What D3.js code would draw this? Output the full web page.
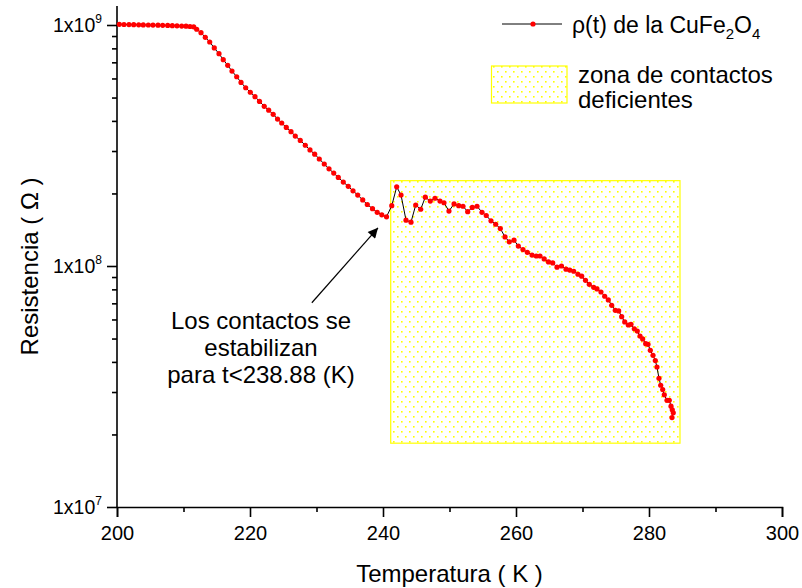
<!DOCTYPE html>
<html>
<head>
<meta charset="utf-8">
<script src="https://cdn.jsdelivr.net/npm/d3@7"></script>
<style>
  body { margin: 0; background: #fff; }
  text { font-family: "Liberation Sans", Arial, sans-serif; fill: #000; }
</style>
</head>
<body>
<div id="chart"></div>
<script>
// temperature (K)
const temps = [200.35, 201.05, 201.80, 202.51, 203.26, 203.95, 204.71, 205.41, 206.17, 206.87,
  207.62, 208.32, 209.02, 209.73, 210.38, 210.98, 211.53, 211.98, 212.63, 213.28,
  213.94, 214.63, 215.34, 215.98, 216.65, 217.29, 218.00, 218.65, 219.35, 220.05,
  220.75, 221.43, 222.14, 222.81, 223.49, 224.14, 224.77, 225.46, 226.17, 226.81,
  227.56, 228.32, 229.02, 229.73, 230.42, 231.17, 231.88, 232.59, 233.28, 234.03,
  234.78, 235.49, 236.20, 236.95, 237.64, 238.42, 239.13, 239.82, 240.53, 241.32,
  242.06, 242.71, 243.46, 244.21, 244.92, 245.67, 246.36, 247.11, 247.82, 248.57,
  249.17, 249.92, 250.68, 251.38, 252.03, 252.74, 253.43, 254.14, 254.89, 255.53,
  256.24, 256.95, 257.64, 258.35, 258.99, 259.70, 260.35, 261.05, 261.70, 262.41,
  263.05, 263.61, 264.24, 264.89, 265.52, 266.17, 266.84, 267.52, 268.08, 268.68,
  269.32, 269.88, 270.45, 271.02, 271.68, 272.18, 272.78, 273.34, 273.88, 274.39,
  274.93, 275.44, 275.89, 276.35, 276.89, 277.29, 277.79, 278.24, 278.65, 279.05,
  279.50, 279.85, 280.20, 280.60, 280.95, 281.20, 281.50, 281.76, 282.06, 282.30,
  282.71, 283.05, 283.31, 283.50, 283.65, 283.46];

// resistance (ohm)
const resist = [1.006e9, 1.005e9, 1.004e9, 1.003e9, 1.002e9, 1.001e9, 1.000e9, 0.999e9, 0.998e9, 0.997e9,
  0.996e9, 0.994e9, 0.992e9, 0.990e9, 0.989e9, 0.986e9, 0.983e9, 9.60e8, 9.29e8, 8.89e8,
  8.50e8, 8.03e8, 7.60e8, 7.18e8, 6.80e8, 6.44e8, 6.10e8, 5.78e8, 5.49e8, 5.26e8,
  5.04e8, 4.82e8, 4.60e8, 4.43e8, 4.26e8, 4.07e8, 3.92e8, 3.76e8, 3.61e8, 3.46e8,
  3.32e8, 3.17e8, 3.03e8, 2.91e8, 2.78e8, 2.65e8, 2.53e8, 2.43e8, 2.33e8, 2.23e8,
  2.14e8, 2.05e8, 1.97e8, 1.88e8, 1.80e8, 1.73e8, 1.67e8, 1.63e8, 1.60e8, 1.78e8,
  2.13e8, 1.97e8, 1.55e8, 1.52e8, 1.79e8, 1.72e8, 1.93e8, 1.86e8, 1.91e8, 1.86e8,
  1.83e8, 1.69e8, 1.81e8, 1.78e8, 1.77e8, 1.68e8, 1.75e8, 1.77e8, 1.67e8, 1.62e8,
  1.54e8, 1.49e8, 1.43e8, 1.32e8, 1.26e8, 1.28e8, 1.21e8, 1.17e8, 1.14e8, 1.11e8,
  1.10e8, 1.10e8, 1.07e8, 1.04e8, 1.03e8, 9.89e7, 1.00e8, 9.70e7, 9.62e7, 9.51e7,
  9.24e7, 9.07e7, 8.72e7, 8.39e7, 8.16e7, 8.03e7, 7.80e7, 7.49e7, 7.23e7, 6.87e7,
  6.55e7, 6.51e7, 6.16e7, 5.86e7, 5.69e7, 5.73e7, 5.49e7, 5.37e7, 5.12e7, 4.98e7,
  4.76e7, 4.73e7, 4.47e7, 4.26e7, 4.05e7, 3.81e7, 3.42e7, 3.20e7, 3.07e7, 2.92e7,
  2.77e7, 2.77e7, 2.62e7, 2.53e7, 2.46e7, 2.35e7];

const xTicks = [200, 220, 240, 260, 280, 300];
const xMinorTicks = [210, 230, 250, 270, 290];
const yTicks = [1e7, 1e8, 1e9];
const yExponents = ["7", "8", "9"];

// zone of bad contacts (T range and R range)
const zoneT = [241.16, 284.66];
const zoneR = [1.84e7, 2.26e8];

const annotationLines = ["Los contactos se", "estabilizan", "para t<238.88 (K)"];
const arrowFrom = [229.3, 7.04e7];
const arrowTo = [239.25, 1.44e8];

const width = 802, height = 588;

const svg = d3.select("#chart").append("svg")
  .attr("width", width)
  .attr("height", height);

const x = d3.scaleLinear().domain([200, 300]).range([117, 782]);
const y = d3.scaleLog().domain([1e7, 1e9]).range([507, 25]);
const yTop = 1.2e9;

const defs = svg.append("defs");
const pat = defs.append("pattern")
  .attr("id", "dots")
  .attr("patternUnits", "userSpaceOnUse")
  .attr("width", 8)
  .attr("height", 10);
pat.append("rect").attr("width", 8).attr("height", 10).attr("fill", "#fff");
pat.append("rect").attr("x", 1).attr("y", 1).attr("width", 1.6).attr("height", 1.6).attr("fill", "#ffff00");
pat.append("rect").attr("x", 5).attr("y", 6).attr("width", 1.6).attr("height", 1.6).attr("fill", "#ffff00");

defs.append("marker")
  .attr("id", "arrow")
  .attr("viewBox", "0 0 10 10")
  .attr("refX", 10).attr("refY", 5)
  .attr("markerWidth", 13).attr("markerHeight", 10)
  .attr("markerUnits", "userSpaceOnUse")
  .attr("orient", "auto")
  .append("path").attr("d", "M0,0 L10,5 L0,10 z").attr("fill", "#000");

// yellow zone
svg.append("rect")
  .attr("x", x(zoneT[0]))
  .attr("y", y(zoneR[1]))
  .attr("width", x(zoneT[1]) - x(zoneT[0]))
  .attr("height", y(zoneR[0]) - y(zoneR[1]))
  .attr("fill", "url(#dots)")
  .attr("stroke", "#ffff00")
  .attr("stroke-width", 1.2);

// x axis
const xAxis = svg.append("g")
  .attr("transform", `translate(0,${y(1e7)})`)
  .call(d3.axisBottom(x).tickValues(xTicks).tickSize(10).tickPadding(9).tickFormat(d3.format("d")));
svg.append("g")
  .attr("transform", `translate(0,${y(1e7)})`)
  .call(d3.axisBottom(x).tickValues(xMinorTicks).tickSize(5).tickFormat(""))
  .select(".domain").remove();
xAxis.selectAll("text").attr("font-size", 20).attr("font-family", "Liberation Sans, Arial, sans-serif");

// y axis
const minorY = [];
[1e7, 1e8].forEach(dec => { for (let k = 2; k <= 9; k++) minorY.push(dec * k); });
const yAxis = svg.append("g")
  .attr("transform", `translate(${x(200)},0)`)
  .call(d3.axisLeft(y).tickValues(yTicks).tickSize(10).tickFormat(""));
yAxis.select(".domain").attr("d", `M0,${y(1e7)}V${y(yTop)}`);
svg.append("g")
  .attr("transform", `translate(${x(200)},0)`)
  .call(d3.axisLeft(y).tickValues(minorY).tickSize(5).tickFormat(""))
  .select(".domain").remove();

svg.selectAll(".domain, .tick line").attr("stroke", "#000").attr("stroke-width", 1.6);

const yLab = svg.append("g").selectAll("text")
  .data(yTicks)
  .join("text")
  .attr("x", 102)
  .attr("y", d => y(d) + 7)
  .attr("text-anchor", "end")
  .attr("font-size", 19.5);
yLab.append("tspan").text("1x10");
yLab.append("tspan").attr("font-size", 12).attr("dy", -9).text((d, i) => yExponents[i]);

// axis titles
svg.append("text")
  .attr("x", (x(200) + x(300)) / 2)
  .attr("y", 582)
  .attr("text-anchor", "middle")
  .attr("font-size", 24)
  .text("Temperatura ( K )");
svg.append("text")
  .attr("transform", `translate(38,${(y(1e7) + y(yTop)) / 2 + 10}) rotate(-90)`)
  .attr("text-anchor", "middle")
  .attr("font-size", 24)
  .text("Resistencia ( Ω )");

// data
const pts = temps.map((t, i) => [t, resist[i]]);
svg.append("path")
  .datum(pts)
  .attr("fill", "none")
  .attr("stroke", "#000")
  .attr("stroke-width", 1)
  .attr("d", d3.line().x(d => x(d[0])).y(d => y(d[1])));
svg.append("g").selectAll("circle")
  .data(pts)
  .join("circle")
  .attr("cx", d => x(d[0]))
  .attr("cy", d => y(d[1]))
  .attr("r", 2.6)
  .attr("fill", "#ff0000");

// annotation
svg.append("line")
  .attr("x1", x(arrowFrom[0])).attr("y1", y(arrowFrom[1]))
  .attr("x2", x(arrowTo[0])).attr("y2", y(arrowTo[1]))
  .attr("stroke", "#000").attr("stroke-width", 1.2)
  .attr("marker-end", "url(#arrow)");
svg.append("g").selectAll("text")
  .data(annotationLines)
  .join("text")
  .attr("x", 261)
  .attr("y", (d, i) => 329 + i * 27)
  .attr("text-anchor", "middle")
  .attr("font-size", 24)
  .text(d => d);

// legend
const lg = svg.append("g");
lg.append("line").attr("x1", 502).attr("x2", 562).attr("y1", 24).attr("y2", 24)
  .attr("stroke", "#000").attr("stroke-width", 1);
lg.append("circle").attr("cx", 533).attr("cy", 24).attr("r", 2.6).attr("fill", "#ff0000");
const lt = lg.append("text").attr("x", 572).attr("y", 33).attr("font-size", 23);
lt.append("tspan").text("ρ(t) de la CuFe");
lt.append("tspan").attr("font-size", 15).attr("dy", 6).text("2");
lt.append("tspan").attr("dy", -6).text("O");
lt.append("tspan").attr("font-size", 15).attr("dy", 6).text("4");

lg.append("rect").attr("x", 491.5).attr("y", 66).attr("width", 75.5).attr("height", 37)
  .attr("fill", "url(#dots)").attr("stroke", "#ffff00").attr("stroke-width", 1.2);
lg.append("text").attr("x", 578).attr("y", 83).attr("font-size", 24).text("zona de contactos");
lg.append("text").attr("x", 578).attr("y", 108).attr("font-size", 24).text("deficientes");
</script>
</body>
</html>
